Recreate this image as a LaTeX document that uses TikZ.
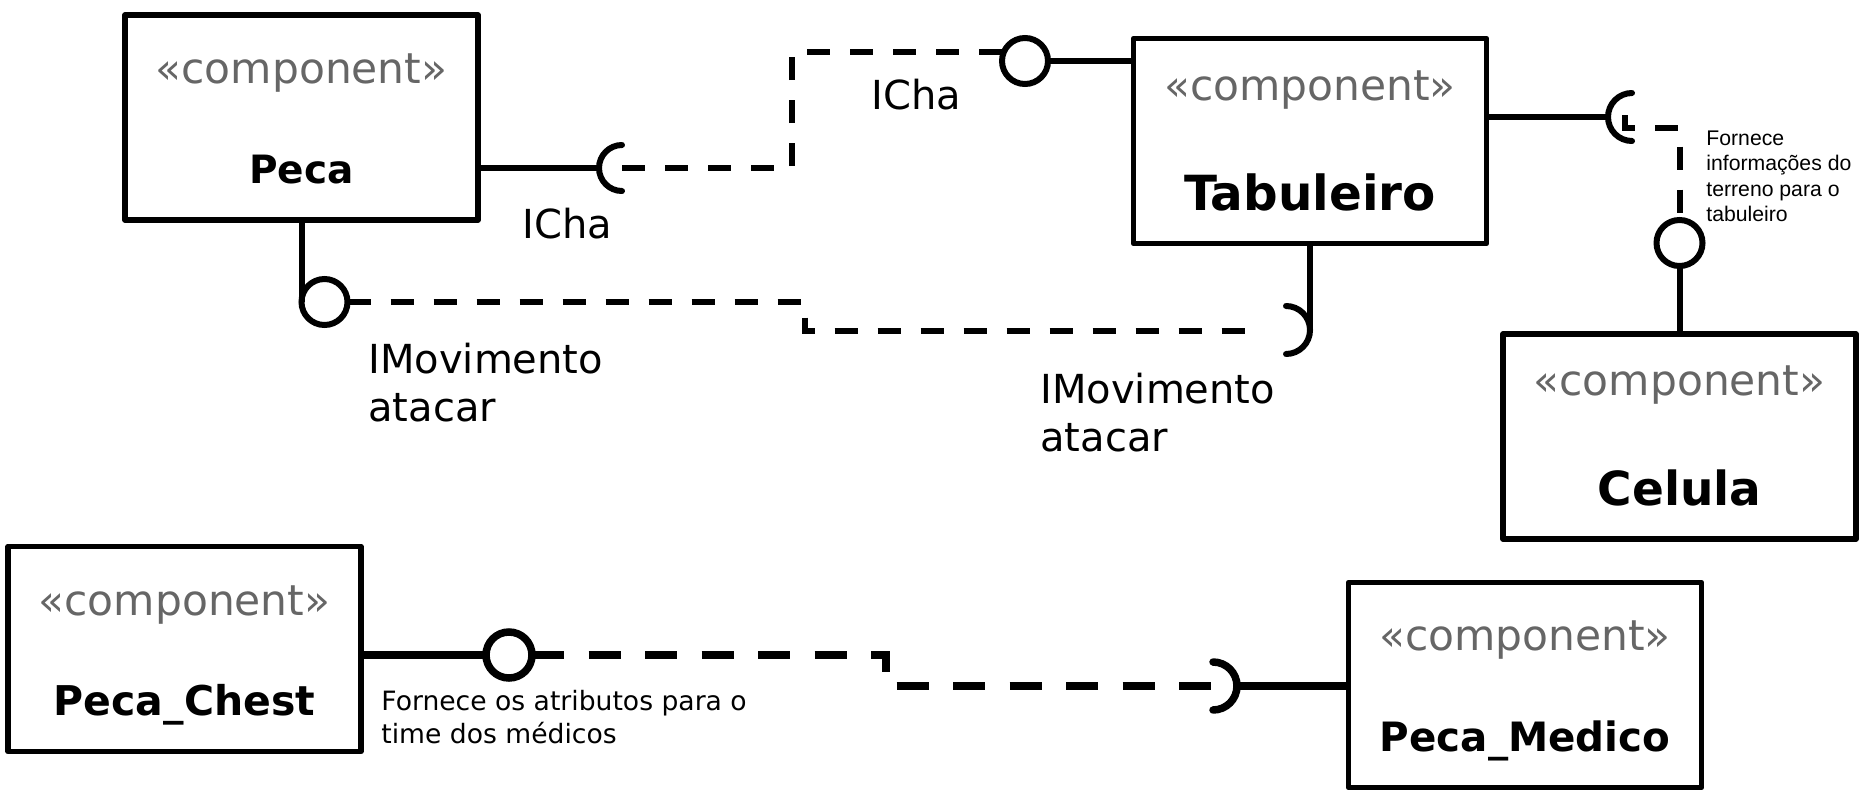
\documentclass[tikz,border=0pt]{standalone}
\usepackage{fontspec}
\setmainfont{DejaVu Sans}
\newfontfamily\notefont{Liberation Sans}
\usepackage{xcolor}
\usetikzlibrary{calc}

\definecolor{stereogray}{HTML}{666666}

\begin{document}
\begin{tikzpicture}[x=0.5pt, y=-0.5pt,
            comp/.style={rectangle, draw=black, line width=2.75pt, line join=round, minimum width=176.5pt, minimum height=102.5pt, inner sep=0pt, outer sep=0pt},
            stereo/.style={anchor=base, inner sep=0pt, text=stereogray, font=\fontsize{21.2}{25}\selectfont},
            cname/.style={anchor=base, inner sep=0pt, font=\fontsize{#1}{#1}\selectfont\bfseries},
            iface/.style={circle, draw=black, line width=3pt, minimum size=23pt, inner sep=0pt, outer sep=0pt, fill=white},
            conn/.style={line width=3pt},
            sock/.style={line width=3pt, line cap=round},
            dep/.style={line width=3pt, dash pattern=on 11.5pt off 10pt},
            lbl/.style={anchor=base west, inner sep=0pt, align=left, font=\fontsize{20}{24}\selectfont},
            note/.style={anchor=base west, inner sep=0pt, align=left, font=\fontsize{13.3}{16.5}\selectfont},
            tnote/.style={anchor=base west, inner sep=0pt, align=left, font=\notefont\fontsize{10.6}{12.75}\selectfont}
        ]
\useasboundingbox (0,0) rectangle (1867,804);

% Components
            \node[comp] (peca) at (301.5,117.5) {};
            \node[stereo] (pecaS) at (301.5,83) {«component»};
            \node[cname=19.5] (pecaN) at (301.5,183) {Peca};

            \node[comp] (tab) at (1310,141) {};
            \node[stereo] (tabS) at (1310,100) {«component»};
            \node[cname=24.2] (tabN) at (1310,210) {Tabuleiro};

            \node[comp] (cel) at (1679.5,436.5) {};
            \node[stereo] (celS) at (1679.5,395) {«component»};
            \node[cname=23.5] (celN) at (1679.5,505) {Celula};

            \node[comp] (chest) at (184.5,649) {};
            \node[stereo] (chestS) at (184.5,615) {«component»};
            \node[cname=20.5] (chestN) at (184.5,715) {Peca\_Chest};

            \node[comp] (medico) at (1525,685) {};
            \node[stereo] (medicoS) at (1525,650) {«component»};
            \node[cname=20.2] (medicoN) at (1525,751) {Peca\_Medico};

% Provided interfaces
            \node[iface] (ichaP) at (1025,61) {};
            \node[iface] (imovP) at (324.5,302) {};
            \node[iface] (terP) at (1679.5,243) {};
            \node[iface, line width=3.75pt] (atrP) at (509,655) {};

% Required interfaces
            \coordinate (ichaR) at (622,168);
            \coordinate (imovR) at (1286,330);
            \coordinate (terR) at (1632,117);
            \coordinate (atrR) at (1213,686);
            \draw[sock] ($(ichaR)+(0,23)$) arc[start angle=90, end angle=270, radius=23];
            \draw[sock] ($(imovR)+(0,-24)$) arc[start angle=-90, end angle=90, radius=24];
            \draw[sock] ($(terR)+(0,24)$) arc[start angle=90, end angle=270, radius=24];
            \draw[sock, line width=3.75pt] ($(atrR)+(0,-24)$) arc[start angle=-90, end angle=90, radius=24];

% Solid links
            \draw[conn] (peca.east |- ichaR) -- ($(ichaR)+(-23,0)$);
            \draw[conn] (ichaP.east) -- (tab.west |- ichaP.east);
            \draw[conn] (peca.south) -- (imovP.west);
            \draw[conn] (tab.south) -- ($(imovR)+(24,0)$);
            \draw[conn] (tab.east |- terR) -- ($(terR)+(-24,0)$);
            \draw[conn] (terP.south) -- (cel.north);
            \draw[conn, line width=3.75pt] (chest.east |- atrP) -- (atrP.west);
            \draw[conn, line width=3.75pt] ($(atrR)+(24,0)$) -- (medico.west |- atrR);

% Dashed links
            \draw[dep] (ichaR) -- (792,168) |- (ichaP.157);
            \draw[dep] (imovP.east) -- (805,302) |- ($(imovR)+(-24,1)$);
            \draw[dep] ($(terR)+(-7,-2)$) |- (1679.5,128) -- (terP.north);
            \draw[dep, line width=4pt, dash pattern=on 16pt off 12.25pt] (atrP.east) -- (886,655) |- (atrR);

% Labels (base = last line)
            \node[lbl] (ichaLa) at (522,238) {ICha};
            \node[lbl] (ichaLb) at (871,109) {ICha};
            \node[lbl] (imovLa) at (368,421) {IMovimento\\atacar};
            \node[lbl] (imovLb) at (1040,451) {IMovimento\\atacar};
            \node[note] (atrL) at (381,743) {Fornece os atributos para o\\time dos médicos};
            \node[tnote] (terL) at (1706,221.5) {Fornece\\informações do\\terreno para o\\tabuleiro};

\end{tikzpicture}
\end{document}
